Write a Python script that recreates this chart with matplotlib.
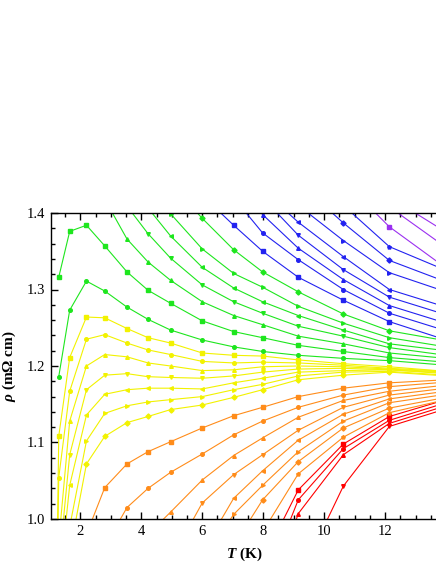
import matplotlib
matplotlib.use("Agg")
import matplotlib.pyplot as plt
from matplotlib.ticker import MultipleLocator

plt.rcParams['font.family'] = ['Liberation Serif', 'DejaVu Serif']
plt.rcParams['mathtext.fontset'] = 'custom'
plt.rcParams['mathtext.rm'] = 'Liberation Serif'
plt.rcParams['mathtext.it'] = 'Liberation Serif:italic'
plt.rcParams['mathtext.bf'] = 'Liberation Serif:bold'
plt.rcParams['mathtext.bfit'] = 'Liberation Serif:italic:bold'

# temperature columns (K)
T = [1.12, 1.29, 1.65, 2.2, 2.8, 3.53, 4.22, 4.96, 6.0, 7.03, 7.98, 9.15, 10.63, 12.14, 14.0]
N = None

# resistivity (mOhm cm), one list per curve, grouped by colour
red = [
    [N, N, N, N, N, N, N, N, N, N, 0.945, 1.038, 1.098, 1.134, 1.156],
    [N, N, N, N, N, N, N, N, N, N, 0.908, 1.025, 1.092, 1.129, 1.152],
    [N, N, N, N, N, N, N, N, N, N, 0.867, 1.007, 1.084, 1.125, 1.148],
    [N, N, N, N, N, N, N, N, N, N, N, 0.920, 1.043, 1.121, 1.144],
]
orange = [
    [N, N, N, 0.980, 1.041, 1.072, 1.088, 1.101, 1.119, 1.135, 1.146, 1.160, 1.171, 1.178, 1.182],
    [N, N, N, N, 0.964, 1.015, 1.040, 1.061, 1.085, 1.110, 1.128, 1.146, 1.162, 1.173, 1.179],
    [N, N, N, N, N, N, 0.980, 1.009, 1.051, 1.083, 1.106, 1.133, 1.155, 1.167, 1.175],
    [N, N, N, N, N, N, N, 0.946, 1.021, 1.058, 1.084, 1.116, 1.146, 1.162, 1.171],
    [N, N, N, N, N, N, N, N, 0.957, 1.027, 1.063, 1.103, 1.137, 1.157, 1.167],
    [N, N, N, N, N, N, N, N, 0.944, 1.006, 1.044, 1.088, 1.128, 1.152, 1.163],
    [N, N, N, N, N, N, N, N, N, 0.965, 1.025, 1.075, 1.119, 1.145, 1.159],
    [N, N, N, N, N, N, N, N, N, N, 0.983, 1.059, 1.107, 1.139, 1.156],
]
yellow = [
    [0.60, 1.108, 1.211, 1.264, 1.263, 1.249, 1.237, 1.230, 1.217, 1.214, 1.213, 1.208, 1.203, 1.199, 1.193],
    [0.60, 1.054, 1.167, 1.235, 1.241, 1.230, 1.221, 1.215, 1.206, 1.204, 1.205, 1.204, 1.201, 1.197, 1.193],
    [N, 0.970, 1.128, 1.200, 1.215, 1.212, 1.204, 1.200, 1.194, 1.195, 1.199, 1.200, 1.199, 1.196, 1.192],
    [N, 0.936, 1.084, 1.169, 1.188, 1.190, 1.186, 1.185, 1.184, 1.187, 1.192, 1.196, 1.197, 1.195, 1.191],
    [N, 0.907, 1.044, 1.136, 1.163, 1.169, 1.171, 1.171, 1.170, 1.178, 1.184, 1.192, 1.194, 1.195, 1.190],
    [N, N, 0.990, 1.102, 1.138, 1.148, 1.153, 1.156, 1.160, 1.169, 1.176, 1.187, 1.192, 1.193, 1.188],
    [N, N, 0.956, 1.072, 1.108, 1.126, 1.134, 1.143, 1.149, 1.159, 1.169, 1.182, 1.188, 1.192, 1.187],
]
green = [
    [N, 1.316, 1.376, 1.384, 1.357, 1.323, 1.299, 1.282, 1.259, 1.245, 1.237, 1.227, 1.219, 1.211, 1.205],
    [N, 1.186, 1.273, 1.311, 1.298, 1.277, 1.261, 1.247, 1.234, 1.225, 1.219, 1.214, 1.210, 1.207, 1.201],
    [N, N, N, N, 1.418, 1.366, 1.336, 1.312, 1.284, 1.266, 1.254, 1.239, 1.229, 1.217, 1.210],
    [N, N, N, N, N, 1.409, 1.373, 1.341, 1.306, 1.284, 1.269, 1.252, 1.239, 1.224, 1.214],
    [N, N, N, N, N, N, 1.4065, 1.370, 1.329, 1.302, 1.284, 1.266, 1.247, 1.229, 1.220],
    [N, N, N, N, N, N, 1.437, 1.399, 1.353, 1.321, 1.303, 1.278, 1.256, 1.237, 1.225],
    [N, N, N, N, N, N, N, 1.439, 1.393, 1.352, 1.323, 1.297, 1.268, 1.246, 1.233],
]
blue = [
    [N, N, N, N, N, N, N, N, 1.423, 1.384, 1.350, 1.316, 1.286, 1.258, 1.234],
    [N, N, N, N, N, N, N, N, N, 1.420, 1.374, 1.339, 1.300, 1.269, 1.246],
    [N, N, N, N, N, N, N, N, N, 1.440, 1.398, 1.354, 1.313, 1.279, 1.256],
    [N, N, N, N, N, N, N, N, N, N, 1.420, 1.371, 1.326, 1.290, 1.267],
    [N, N, N, N, N, N, N, N, N, N, 1.430, 1.388, 1.343, 1.300, 1.277],
    [N, N, N, N, N, N, N, N, N, N, N, 1.410, 1.364, 1.322, 1.297],
    [N, N, N, N, N, N, N, N, N, N, N, 1.440, 1.387, 1.338, 1.310],
    [N, N, N, N, N, N, N, N, N, N, N, N, 1.410, 1.356, 1.325],
]
purple = [
    [N, N, N, N, N, N, N, N, N, N, N, N, 1.442, 1.382, 1.328],
    [N, N, N, N, N, N, N, N, N, N, N, N, N, 1.408, 1.355],
    [N, N, N, N, N, N, N, N, N, N, N, N, N, 1.421, 1.375],
]

groups = [(red, '#ff0000'), (orange, '#ff8c1a'), (yellow, '#f2f200'),
          (green, '#1ee61e'), (blue, '#2222f0'), (purple, '#9b30f0')]
markers = ['s', 'o', '^', 'v', '<', '>', 'D', 'p']

fig = plt.figure(figsize=(4.36, 5.64), dpi=100)
ax = fig.add_axes([50.5 / 436, 45 / 564, 387 / 436, 306 / 564])

for curves, color in groups:
    for i, rho in enumerate(curves):
        xs = [t for t, r in zip(T, rho) if r is not None]
        ys = [r for r in rho if r is not None]
        ax.plot(xs, ys, color=color, lw=0.8, marker=markers[i % len(markers)],
                ms=2.6, mec=color, mfc=color)

ax.set_xlim(1.02, 13.72)
ax.set_ylim(1.0, 1.4)
ax.xaxis.set_major_locator(MultipleLocator(2))
ax.xaxis.set_minor_locator(MultipleLocator(0.5))
ax.yaxis.set_major_locator(MultipleLocator(0.1))
ax.yaxis.set_minor_locator(MultipleLocator(0.02))
ax.tick_params(which='both', direction='in', top=True, right=False, width=1.0)
ax.tick_params(which='major', length=5, labelsize=10.5, pad=4)
ax.tick_params(which='minor', length=3)
for s in ax.spines.values():
    s.set_linewidth(1.0)
ax.spines['right'].set_visible(False)

ax.set_xlabel(r'$\mathbfit{T}$ (K)', fontsize=11, fontweight='bold', labelpad=6)
ax.set_ylabel(r'$\mathbfit{\rho}$ (m$\mathbf{\Omega}$ cm)', fontsize=11, fontweight='bold', labelpad=6)

fig.savefig('out.png', dpi=100)
